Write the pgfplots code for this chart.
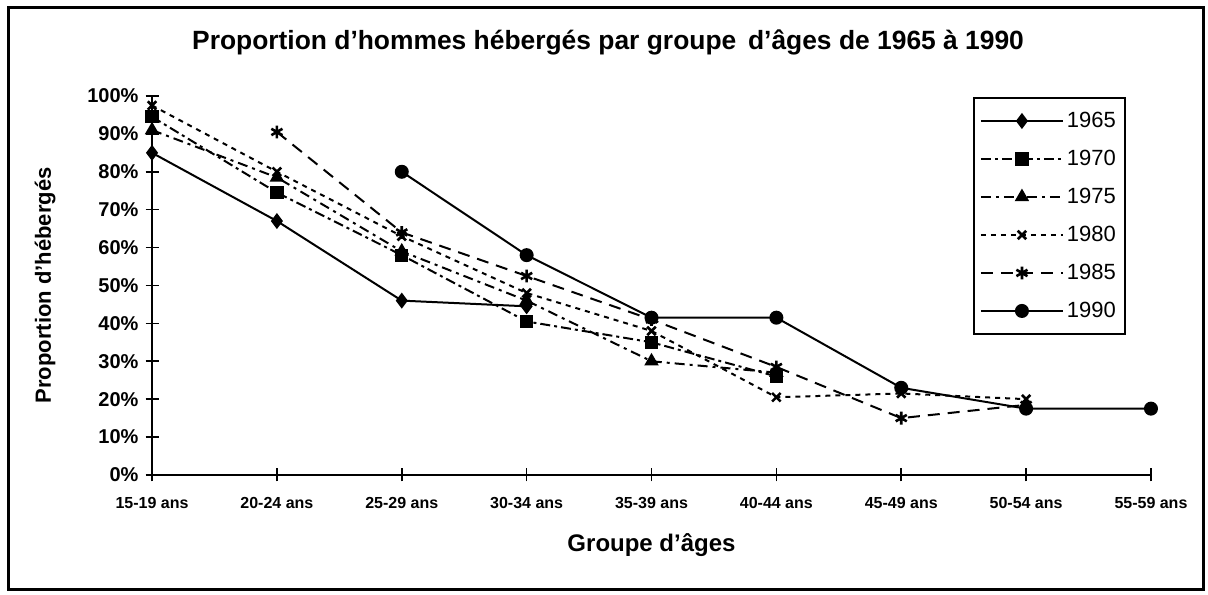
\documentclass[border=0pt]{standalone}
\usepackage{fontspec}
\setmainfont{Liberation Sans}
\usepackage{pgfplots}
\pgfplotsset{compat=1.18}
\begin{document}
\begin{tikzpicture}
\begin{axis}[
  scale only axis, width=499.5pt, height=189.5pt,
  xmin=0, xmax=8, ymin=0, ymax=100,
  axis lines=left, axis line style={-, line width=1pt},
  xtick={0,...,8},
  xticklabels={15-19 ans,20-24 ans,25-29 ans,30-34 ans,35-39 ans,40-44 ans,45-49 ans,50-54 ans,55-59 ans},
  ytick={0,10,...,100},
  yticklabels={0\%,10\%,20\%,30\%,40\%,50\%,60\%,70\%,80\%,90\%,100\%},
  tick align=center, major tick length=6.5pt,
  tick style={line width=0.8pt, black},
  xticklabel style={font=\fontsize{8}{9}\selectfont\bfseries, yshift=-4.5pt},
  yticklabel style={font=\fontsize{10}{11}\selectfont\bfseries},
  clip=false,
  xlabel={Groupe d'âges},
  xlabel style={at={(axis description cs:0.5,-0.1847)}, anchor=center, font=\fontsize{12}{14}\selectfont\bfseries},
  ylabel={Proportion d'hébergés},
  ylabel style={at={(axis description cs:-0.107,0.5)}, anchor=center, font=\fontsize{11}{13}\selectfont\bfseries},
  legend style={at={(axis description cs:0.8218,0.9974)}, anchor=north west, draw=black, line width=1pt,
    font=\fontsize{11}{13}\selectfont, nodes={minimum height=19pt, inner sep=1.5pt}, row sep=0pt, inner xsep=3pt, inner ysep=2pt},
  legend cell align=left,
  legend image code/.code={\draw[mark repeat=2,mark phase=2] plot coordinates {(0pt,0pt) (20.5pt,0pt) (41pt,0pt)};},
  every axis plot/.append style={line width=1pt, black},
]
\addplot[solid, mark=diamond*, mark size=3.2pt, mark options={solid}] coordinates {(0,85) (1,67) (2,46) (3,44.5)};
\addlegendentry{1965}
\addplot[dash pattern=on 5pt off 2pt on 1.5pt off 2pt, mark=square*, mark size=2.8pt, mark options={solid}] coordinates {(0,94.5) (1,74.5) (2,58) (3,40.5) (4,35) (5,26)};
\addlegendentry{1970}
\addplot[dash pattern=on 5pt off 2.5pt on 1.5pt off 2.5pt, mark=triangle*, mark size=3.2pt, mark options={solid}] coordinates {(0,91) (1,78.5) (2,59) (3,46) (4,30) (5,27)};
\addlegendentry{1975}
\addplot[dash pattern=on 2.5pt off 2.5pt, mark=x, mark size=3pt, mark options={solid, line width=1.3pt}] coordinates {(0,97.5) (1,80) (2,63) (3,48) (4,38) (5,20.5) (6,21.5) (7,20)};
\addlegendentry{1980}
\addplot[dash pattern=on 6pt off 4pt, mark=asterisk, mark size=3.2pt, mark options={solid, line width=1.3pt}] coordinates {(1,90.5) (2,64) (3,52.5) (4,41) (5,28.5) (6,15) (7,18.5)};
\addlegendentry{1985}
\addplot[solid, mark=*, mark size=3pt, mark options={solid}] coordinates {(2,80) (3,58) (4,41.5) (5,41.5) (6,23) (7,17.5) (8,17.5)};
\addlegendentry{1990}
\node[font=\fontsize{13.2}{15}\selectfont\bfseries, anchor=center] at (rel axis cs:0.4565,1.1425) {Proportion d'hommes hébergés par groupe\, d'âges de 1965 à 1990};
\draw[line width=1.5pt] (rel axis cs:-0.1441,-0.3034) rectangle (rel axis cs:1.0521,1.2322);
\path (rel axis cs:-0.1522,-0.3166) rectangle (rel axis cs:1.0571,1.2533);
\end{axis}
\end{tikzpicture}
\end{document}
